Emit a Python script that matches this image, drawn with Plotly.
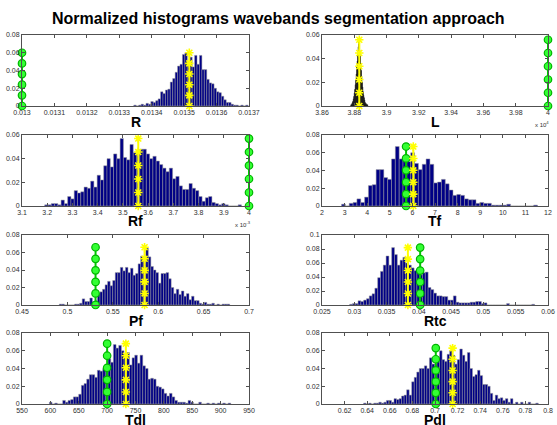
import plotly.graph_objects as go

# ---------------- data ----------------
panel_names = ["R", "L", "Rf", "Tf", "Pf", "Rtc", "Tdl", "Pdl"]

# histogram bins: first bin centre, bin width, normalized heights
R_start, R_step = 0.0133485, 0.0000075
R_heights = [0.001, 0, 0.001, 0.002, 0.001, 0.003, 0.002, 0.005, 0.004, 0.006,
             0.008, 0.016, 0.014, 0.018, 0.019, 0.027, 0.031, 0.038, 0.045, 0.047,
             0.058, 0.060, 0.050, 0.055, 0.044, 0.057, 0.047, 0.057, 0.041, 0.041,
             0.030, 0.026, 0.025, 0.020, 0.016, 0.015, 0.011, 0.007, 0.004, 0.004,
             0.002, 0.001, 0.001, 0, 0.001, 0, 0.001]

L_start, L_step = 3.8780, 0.0003
L_heights = [0.001, 0.001, 0.002, 0.003, 0.004, 0.006, 0.008, 0.011, 0.014, 0.018,
             0.022, 0.027, 0.033, 0.038, 0.044, 0.050, 0.056, 0.052, 0.047, 0.042,
             0.036, 0.030, 0.025, 0.020, 0.016, 0.012, 0.009, 0.007, 0.005, 0.003,
             0.002, 0.002, 0.001, 0.001, 0.001]

Rf_start, Rf_step = 3.1965, 0.013
Rf_heights = [0.001, 0.001, 0.002, 0.002, 0.001, 0.005, 0.002, 0.008, 0.006, 0.013,
              0.011, 0.012, 0.016, 0.015, 0.021, 0.016, 0.026, 0.022, 0.034, 0.040,
              0.033, 0.044, 0.040, 0.057, 0.041, 0.039, 0.052, 0.045, 0.044, 0.048,
              0.048, 0.044, 0.040, 0.042, 0.038, 0.035, 0.032, 0.029, 0.032, 0.023,
              0.025, 0.017, 0.014, 0.014, 0.019, 0.015, 0.013, 0.008, 0.004, 0.007,
              0.008, 0.003, 0.002, 0.001, 0.002, 0.001, 0, 0, 0, 0.001]

Tf_start, Tf_step = 2.95, 0.17
Tf_heights = [0.002, 0, 0.003, 0.004, 0.008, 0.004, 0.010, 0.023, 0.024, 0.041,
              0.041, 0.032, 0.030, 0.053, 0.067, 0.053, 0.055, 0.050, 0.060, 0.048,
              0.041, 0.047, 0.053, 0.047, 0.026, 0.027, 0.030, 0.025, 0.018, 0.012,
              0.013, 0.012, 0.008, 0.007, 0.007, 0.003, 0.004, 0.003, 0.003, 0.001,
              0.001, 0.001, 0.001, 0.002, 0, 0, 0, 0, 0, 0, 0.001]

Pf_start, Pf_step = 0.4925, 0.0028
Pf_heights = [0.001, 0.001, 0, 0, 0, 0, 0.001, 0.001, 0.002, 0.007,
              0.004, 0.004, 0.008, 0.004, 0.005, 0.013, 0.015, 0.018, 0.023, 0.027,
              0.022, 0.028, 0.037, 0.037, 0.043, 0.039, 0.043, 0.037, 0.042, 0.034,
              0.036, 0.047, 0.056, 0.050, 0.065, 0.055, 0.044, 0.040, 0.037, 0.025,
              0.036, 0.036, 0.037, 0.030, 0.020, 0.013, 0.018, 0.012, 0.016, 0.010,
              0.013, 0.006, 0.010, 0.005, 0.005, 0.002, 0.001, 0.003, 0.001, 0.001,
              0.002, 0, 0.001, 0, 0.001, 0.001, 0.001]

Rtc_start, Rtc_step = 0.02950, 0.000434
Rtc_heights = [0.001, 0.002, 0.002, 0.006, 0.005, 0.007, 0.009, 0.013, 0.016, 0.024,
               0.039, 0.048, 0.057, 0.070, 0.057, 0.082, 0.072, 0.057, 0.064, 0.068,
               0.060, 0.057, 0.053, 0.049, 0.045, 0.043, 0.046, 0.047, 0.025, 0.022,
               0.017, 0.013, 0.013, 0.012, 0.012, 0.007, 0.007, 0.013, 0.004, 0.003,
               0.003, 0.003, 0.003, 0.004, 0.004, 0.005, 0.005, 0.002, 0.003, 0,
               0, 0, 0, 0, 0, 0, 0.002, 0, 0, 0,
               0, 0, 0, 0, 0, 0.001]

Tdl_start, Tdl_step = 600.6, 4.7
Tdl_heights = [0.002, 0, 0.001, 0, 0, 0.004, 0.002, 0.004, 0.005, 0.008,
               0.008, 0.011, 0.021, 0.023, 0.028, 0.033, 0.033, 0.030, 0.038, 0.037,
               0.040, 0.042, 0.051, 0.047, 0.067, 0.063, 0.066, 0.060, 0.055, 0.058,
               0.044, 0.052, 0.055, 0.046, 0.055, 0.043, 0.040, 0.028, 0.029, 0.028,
               0.020, 0.019, 0.017, 0.012, 0.009, 0.012, 0.008, 0.004, 0.002, 0.002,
               0.002, 0.001, 0.004, 0.002, 0, 0, 0.002, 0, 0, 0.001,
               0, 0.001, 0, 0.001, 0, 0.001, 0, 0.001]

Pdl_start, Pdl_step = 0.63795, 0.00224
Pdl_heights = [0.001, 0, 0.001, 0, 0.001, 0.001, 0.002, 0.001, 0.002, 0.004,
               0.004, 0.002, 0.006, 0.005, 0.006, 0.009, 0.010, 0.016, 0.010, 0.025,
               0.030, 0.036, 0.040, 0.040, 0.043, 0.040, 0.052, 0.045, 0.045, 0.053,
               0.060, 0.050, 0.048, 0.056, 0.060, 0.055, 0.045, 0.050, 0.062, 0.055,
               0.048, 0.058, 0.040, 0.031, 0.033, 0.038, 0.032, 0.022, 0.022, 0.020,
               0.012, 0.004, 0.010, 0.006, 0.007, 0.004, 0.006, 0.002, 0.006, 0,
               0.002, 0, 0.002, 0, 0, 0.002, 0, 0, 0.001]

# segmentation thresholds (green = circles, yellow = asterisks) and their heights
green_x = [0.0130, 4.0, 4.0, 5.72, 0.531, 0.0402, 700, 0.7007]
yellow_x = [0.013516, 3.8831, 3.561, 6.04, 0.585, 0.0383, 733, 0.7156]
line_top = [0.060, 0.056, 0.057, 0.067, 0.066, 0.082, 0.068, 0.063]
marker_fractions = [0, 0.2, 0.4, 0.6, 0.8, 1.0]

# axes
x_ranges = [[0.013, 0.0137], [3.86, 4.0], [3.1, 4.0], [2, 12],
            [0.45, 0.7], [0.025, 0.06], [550, 950], [0.6, 0.8]]
x_tickvals = [
    [0.013, 0.0131, 0.0132, 0.0133, 0.0134, 0.0135, 0.0136, 0.0137],
    [3.86, 3.88, 3.90, 3.92, 3.94, 3.96, 3.98, 4.0],
    [3.1, 3.2, 3.3, 3.4, 3.5, 3.6, 3.7, 3.8, 3.9, 4.0],
    [2, 3, 4, 5, 6, 7, 8, 9, 10, 11, 12],
    [0.45, 0.5, 0.55, 0.6, 0.65, 0.7],
    [0.025, 0.03, 0.035, 0.04, 0.045, 0.05, 0.055, 0.06],
    [550, 600, 650, 700, 750, 800, 850, 900, 950],
    [0.62, 0.64, 0.66, 0.68, 0.70, 0.72, 0.74, 0.76, 0.78, 0.80],
]
x_ticktext = [
    ["0.013", "0.0131", "0.0132", "0.0133", "0.0134", "0.0135", "0.0136", "0.0137"],
    ["3.86", "3.88", "3.9", "3.92", "3.94", "3.96", "3.98", "4"],
    ["3.1", "3.2", "3.3", "3.4", "3.5", "3.6", "3.7", "3.8", "3.9", "4"],
    ["2", "3", "4", "5", "6", "7", "8", "9", "10", "11", "12"],
    ["0.45", "0.5", "0.55", "0.6", "0.65", "0.7"],
    ["0.025", "0.03", "0.035", "0.04", "0.045", "0.05", "0.055", "0.06"],
    ["550", "600", "650", "700", "750", "800", "850", "900", "950"],
    ["0.62", "0.64", "0.66", "0.68", "0.7", "0.72", "0.74", "0.76", "0.78", "0.8"],
]
y_max = [0.08, 0.06, 0.06, 0.08, 0.08, 0.1, 0.08, 0.08]
y_tickvals_08 = [0, 0.02, 0.04, 0.06, 0.08]
y_ticktext_08 = ["0", "0.02", "0.04", "0.06", "0.08"]
y_tickvals_06 = [0, 0.02, 0.04, 0.06]
y_ticktext_06 = ["0", "0.02", "0.04", "0.06"]
y_tickvals_10 = [0, 0.02, 0.04, 0.06, 0.08, 0.1]
y_ticktext_10 = ["0", "0.02", "0.04", "0.06", "0.08", "0.1"]

exponent_labels = {1: "x 10<sup>4</sup>", 2: "x 10<sup>-3</sup>"}

title_text = "Normalized histograms wavebands segmentation approach"

hist_data = [
    (R_start, R_step, R_heights),
    (L_start, L_step, L_heights),
    (Rf_start, Rf_step, Rf_heights),
    (Tf_start, Tf_step, Tf_heights),
    (Pf_start, Pf_step, Pf_heights),
    (Rtc_start, Rtc_step, Rtc_heights),
    (Tdl_start, Tdl_step, Tdl_heights),
    (Pdl_start, Pdl_step, Pdl_heights),
]

# ---------------- layout geometry (pixels) ----------------
W, H = 557, 425
col_px = [(22, 249), (322, 548)]
row_px = [(35, 106), (135, 206), (235, 305), (333, 404)]

fig = go.Figure()
FONT = "Liberation Sans, Arial, sans-serif"
axis_color = "#505050"

layout_axes = {}
annotations = []
for k in range(8):
    row, col = k // 2, k % 2
    xa = "x" if k == 0 else f"x{k+1}"
    ya = "y" if k == 0 else f"y{k+1}"
    xkey = "xaxis" if k == 0 else f"xaxis{k+1}"
    ykey = "yaxis" if k == 0 else f"yaxis{k+1}"
    x0, x1 = col_px[col]
    t, b = row_px[row]

    start, step, heights = hist_data[k]
    centers = [start + i * step for i in range(len(heights))]
    if k == 1:
        bar_color, edge_color = "#000000", "#202020"
    else:
        bar_color, edge_color = "#000085", "#9a9a9a"
    fig.add_trace(go.Bar(x=centers, y=heights, width=step, xaxis=xa, yaxis=ya,
                         marker=dict(color=bar_color,
                                     line=dict(color=edge_color, width=0.5)),
                         showlegend=False, hoverinfo="skip"))

    ys = [f * line_top[k] for f in marker_fractions]
    fig.add_trace(go.Scatter(x=[green_x[k]] * len(ys), y=ys, xaxis=xa, yaxis=ya,
                             mode="lines+markers", cliponaxis=False,
                             line=dict(color="#00c800", width=2),
                             marker=dict(symbol="circle", size=7.5, color="#33ff33",
                                         line=dict(color="#00b400", width=1.2)),
                             showlegend=False, hoverinfo="skip"))
    fig.add_trace(go.Scatter(x=[yellow_x[k]] * len(ys), y=ys, xaxis=xa, yaxis=ya,
                             mode="lines+markers", cliponaxis=False,
                             line=dict(color="#ffff00", width=2),
                             marker=dict(symbol="asterisk-open", size=7, color="#ffff00",
                                         line=dict(color="#ffff00", width=1.6)),
                             showlegend=False, hoverinfo="skip"))

    common = dict(showline=True, mirror="ticks", linecolor=axis_color, linewidth=1,
                  ticks="inside", ticklen=3, tickcolor=axis_color, tickwidth=1,
                  showgrid=False, zeroline=False, fixedrange=True, automargin=False,
                  tickfont=dict(family=FONT, size=7, color="#303030"))
    layout_axes[xkey] = dict(common, domain=[x0 / W, x1 / W], anchor=ya,
                             range=x_ranges[k], tickmode="array",
                             tickvals=x_tickvals[k], ticktext=x_ticktext[k])
    if y_max[k] == 0.06:
        tv, tt = y_tickvals_06, y_ticktext_06
    elif y_max[k] == 0.1:
        tv, tt = y_tickvals_10, y_ticktext_10
    else:
        tv, tt = y_tickvals_08, y_ticktext_08
    layout_axes[ykey] = dict(common, domain=[1 - b / H, 1 - t / H], anchor=xa,
                             range=[0, y_max[k]], tickmode="array",
                             tickvals=tv, ticktext=tt)

    annotations.append(dict(text=f"<b>{panel_names[k]}</b>", xref="paper", yref="paper",
                            x=(x0 + x1) / 2 / W, y=1 - (b + 15.5) / H,
                            xanchor="center", yanchor="middle", showarrow=False,
                            font=dict(family=FONT, size=14, color="#000000")))
    if k in exponent_labels:
        annotations.append(dict(text=exponent_labels[k], xref="paper", yref="paper",
                                x=(x1 - 6) / W, y=1 - (b + 18) / H,
                                xanchor="center", yanchor="middle", showarrow=False,
                                font=dict(family=FONT, size=6, color="#303030")))

annotations.append(dict(text=f"<b>{title_text}</b>", xref="paper", yref="paper",
                        x=278 / W, y=1 - 18 / H, xanchor="center", yanchor="middle",
                        showarrow=False,
                        font=dict(family=FONT, size=16, color="#000000")))

fig.update_layout(width=W, height=H, autosize=False,
                  margin=dict(l=0, r=0, t=0, b=0),
                  paper_bgcolor="white", plot_bgcolor="white",
                  bargap=0, barmode="overlay", showlegend=False,
                  annotations=annotations, **layout_axes)

fig.write_html("out.html", config={"displayModeBar": False, "staticPlot": True},
               post_script="document.body.style.margin='0px';"
                           "document.body.style.padding='0px';"
                           "document.body.style.overflow='hidden';")
